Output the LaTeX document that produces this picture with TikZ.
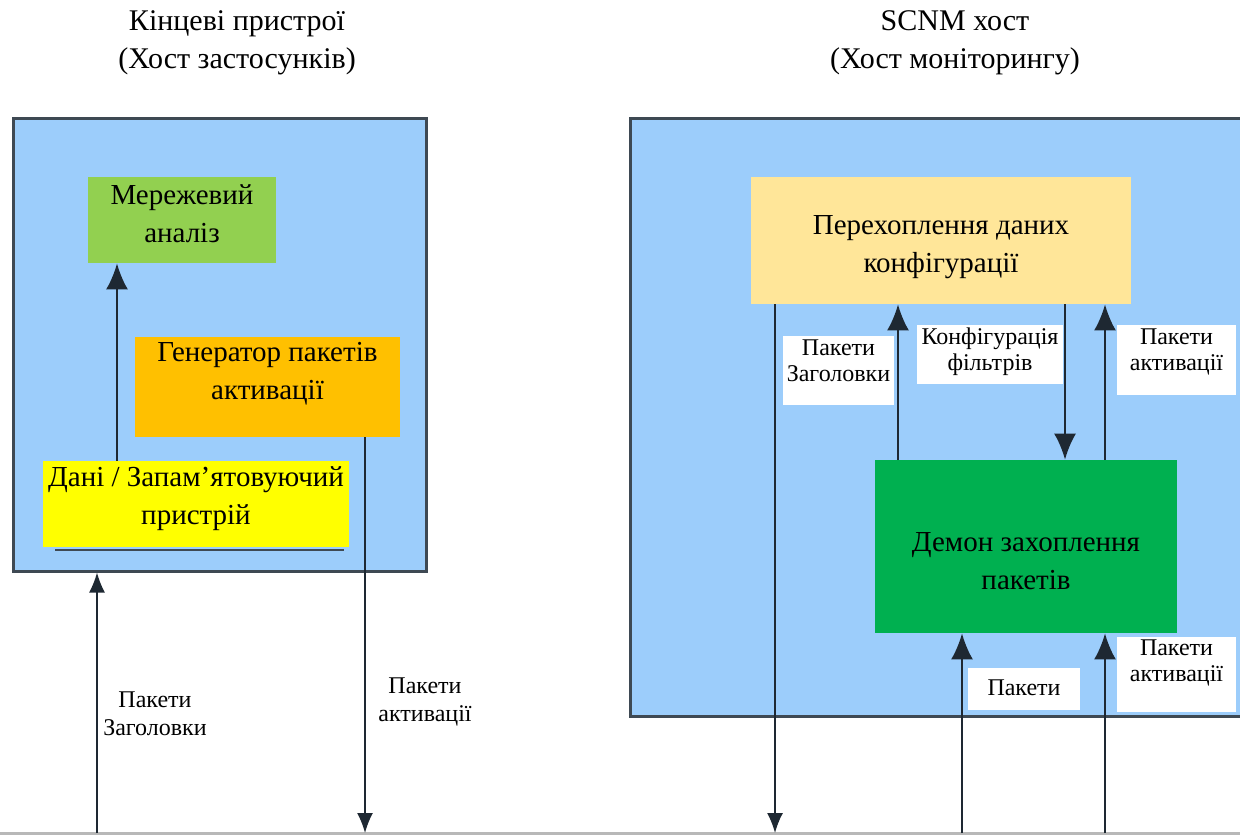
\documentclass[tikz,border=0pt]{standalone}
\usepackage{fontspec}
\setmainfont{Liberation Serif}
\usetikzlibrary{arrows.meta}
\definecolor{hostblue}{HTML}{9CCDFB}
\definecolor{hostedge}{HTML}{3E4953}
\definecolor{netgreen}{HTML}{92D050}
\definecolor{genorange}{HTML}{FFC000}
\definecolor{datyellow}{HTML}{FFFF00}
\definecolor{cfgbeige}{HTML}{FFE699}
\definecolor{dmngreen}{HTML}{00B050}
\definecolor{wire}{HTML}{1E2832}
\definecolor{busgray}{HTML}{B8B8B8}
\tikzset{
  hostbox/.style={draw=hostedge, line width=1.5pt, fill=hostblue, inner sep=0pt},
  blockbox/.style={inner sep=0pt, draw=none},
  bigtext/.style={align=center, font=\fontsize{14.5}{19}\selectfont, inner sep=0pt},
  titletext/.style={align=center, font=\fontsize{15}{19}\selectfont, inner sep=0pt},
  lblbox/.style={inner sep=0pt, fill=white, draw=none},
  lbltext/.style={align=center, font=\fontsize{12}{13}\selectfont, inner sep=0pt},
  lblfree/.style={align=center, font=\fontsize{12}{14}\selectfont, inner sep=0pt},
  conn/.style={draw=wire, line width=1.1pt, arrows={-Latex[length=13pt,width=11pt]}},
  connsm/.style={draw=wire, line width=0.8pt, arrows={-Latex[length=10pt,width=8pt]}},
}
\begin{document}
\begin{tikzpicture}[x=0.5pt,y=-0.5pt]
\useasboundingbox (0,0) rectangle (1240,837);
% titles
\node[titletext] (titleL) at (237,43) {Кінцеві пристрої\\(Хост застосунків)};
\node[titletext] (titleR) at (955,43) {SCNM хост\\(Хост моніторингу)};
% outer host boxes
\node[hostbox, minimum width=206.5pt, minimum height=226.5pt] (hostL) at (219.5,344.5) {};
\fill[hostblue] (630,118) rectangle (1240,716);
\draw[hostedge, line width=1.5pt] (1240,118) -- (630,118) -- (630,716) -- (1240,716);
% left blocks
\node[blockbox, fill=netgreen, minimum width=94pt, minimum height=43pt] (net) at (182,220) {};
\node[bigtext] (nettext) at (182,214) {Мережевий\\аналіз};
\node[blockbox, fill=genorange, minimum width=132.5pt, minimum height=50pt] (gen) at (267.5,387) {};
\node[bigtext] (gentext) at (267.5,374) {Генератор пакетів\\активації};
\draw[hostedge, line width=1.2pt] (55,550) -- (344,550);
\node[blockbox, fill=datyellow, minimum width=153pt, minimum height=43pt] (dat) at (196,504) {};
\node[bigtext] (dattext) at (196,499) {Дані / Запам’ятовуючий\\пристрій};
% right blocks
\node[blockbox, fill=cfgbeige, minimum width=190pt, minimum height=63.5pt] (cfg) at (941,240.5) {};
\node[bigtext] (cfgtext) at (941,247) {Перехоплення даних\\конфігурації};
\node[blockbox, fill=dmngreen, minimum width=151pt, minimum height=86.5pt] (dmn) at (1026,546.5) {};
\node[bigtext] (dmntext) at (1026,561) {Демон захоплення\\пакетів};
% bus line
\coordinate (busL) at (0,833);
\coordinate (busR) at (1240,833);
\draw[busgray, line width=1.5pt] (busL) -- (busR);
% track coordinates
\coordinate (t97) at (97,0);
\coordinate (t117) at (117,0);
\coordinate (t365) at (365,0);
\coordinate (t775) at (775,0);
\coordinate (t898) at (898,0);
\coordinate (t962) at (962,0);
\coordinate (t1065) at (1065,0);
\coordinate (t1105) at (1105,0);
% left connectors
\draw[conn] (dat.north -| t117) -- (net.south -| t117);
\draw[connsm] (busL -| t97) -- (hostL.south -| t97);
\draw[connsm] (gen.south -| t365) -- (busL -| t365);
% right connectors
\draw[connsm] (cfg.south -| t775) -- (busL -| t775);
\draw[conn] (dmn.north -| t898) -- (cfg.south -| t898);
\draw[conn] (cfg.south -| t1065) -- (dmn.north -| t1065);
\draw[conn] (dmn.north -| t1105) -- (cfg.south -| t1105);
\draw[conn] (busL -| t962) -- (dmn.south -| t962);
\draw[conn] (busL -| t1105) -- (dmn.south -| t1105);
% free labels
\node[lblfree] (lblHdrL) at (155,714) {Пакети\\Заголовки};
\node[lblfree] (lblActL) at (425,702) {Пакети\\активації};
% boxed labels
\node[lblbox, minimum width=55.5pt, minimum height=34.5pt] (boxHdrR) at (838.5,370.5) {};
\node[lbltext] (lblHdrR) at (838.5,361) {Пакети\\Заголовки};
\node[lblbox, minimum width=73pt, minimum height=29.5pt] (boxFlt) at (990,354.5) {};
\node[lbltext] (lblFlt) at (990,352) {Конфігурація\\фільтрів};
\node[lblbox, minimum width=59.5pt, minimum height=35pt] (boxActR1) at (1176.5,360) {};
\node[lbltext] (lblActR1) at (1176.5,352) {Пакети\\активації};
\node[lblbox, minimum width=56pt, minimum height=21pt] (boxPkt) at (1024,689) {};
\node[lbltext] (lblPkt) at (1024,688) {Пакети};
\node[lblbox, minimum width=59.5pt, minimum height=37.5pt] (boxActR2) at (1176.5,674.5) {};
\node[lbltext] (lblActR2) at (1176.5,663) {Пакети\\активації};
\end{tikzpicture}
\end{document}
